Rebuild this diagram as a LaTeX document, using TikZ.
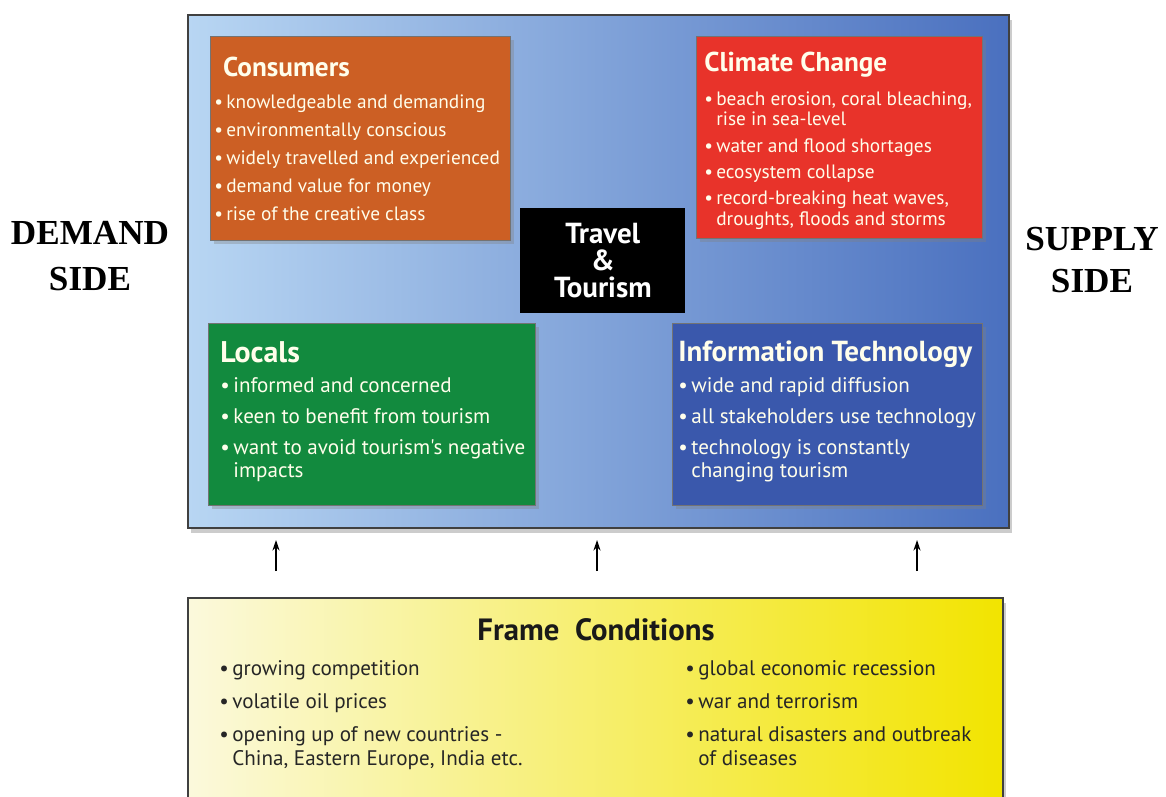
\documentclass[tikz,border=0pt]{standalone}
\usepackage{fontspec}
\setmainfont{Liberation Serif}
\newfontfamily\boxfont{PT Sans}
\usetikzlibrary{shadows,arrows.meta,positioning}
\newcommand{\bul}{\textbullet\,}
\newcommand{\hang}{\phantom{\textbullet\,}}
\newcommand{\cathead}{\boxfont\bfseries\fontsize{15.5}{18}\selectfont}

\begin{document}
\begin{tikzpicture}[x=0.02cm,y=0.02cm,
    catbox/.style={draw=black!55,line width=0.6pt,anchor=north west,
      drop shadow={shadow xshift=2pt,shadow yshift=-2pt,opacity=0.35}},
    cattext/.style={anchor=north west,align=left,text=white!92!yellow,inner sep=0pt,
      font=\boxfont\fontsize{11}{16}\selectfont},
    frametext/.style={anchor=north west,align=left,inner sep=0pt,text=black!85,
      font=\boxfont\fontsize{12}{13.6}\selectfont},
    sidelabel/.style={align=center,font=\bfseries\fontsize{20}{26}\selectfont},
    uparrow/.style={-{Stealth[length=6pt,width=4pt]},line width=0.8pt}]
  \definecolor{skylight}{HTML}{B8D6F3}
  \definecolor{skydark}{HTML}{4A70BF}
  \definecolor{consorange}{HTML}{CC5F24}
  \definecolor{climred}{HTML}{E8332A}
  \definecolor{localgreen}{HTML}{128A3E}
  \definecolor{itblue}{HTML}{3A58AC}
  \definecolor{framecream}{HTML}{FBF9DC}
  \definecolor{frameyellow}{HTML}{F2E400}

  \clip (0,0) rectangle (1166,-797);

  % main box
  \node[draw=black!75,line width=1pt,anchor=north west,minimum width=16.42cm,minimum height=10.26cm,
    left color=skylight,right color=skydark,
    drop shadow={shadow xshift=2pt,shadow yshift=-3pt,opacity=0.4}] (main) at (187,-14) {};

  % category boxes
  \node[catbox,fill=consorange,minimum width=6cm,minimum height=4.08cm] (cons) at (210,-36) {};
  \node[catbox,fill=climred,minimum width=5.72cm,minimum height=4.04cm] (clim) at (696,-36) {};
  \node[catbox,fill=localgreen,minimum width=6.54cm,minimum height=3.64cm] (locals) at (208,-323) {};
  \node[catbox,fill=itblue,minimum width=6.2cm,minimum height=3.64cm] (it) at (672,-323) {};
  \node[fill=black,anchor=north west,minimum width=3.3cm,minimum height=2.1cm,align=center,
    text=white,font=\boxfont\bfseries\fontsize{16.5}{15.3}\selectfont] (travel) at (520,-208)
    {Travel\\\&\\Tourism};

  % texts
  \node[cattext] (cons-txt) at ([shift={(4,-21)}]cons.north west)
    {\hspace*{5pt}{\cathead Consumers}\\[2pt]
     \bul knowledgeable and demanding\\
     \bul environmentally conscious\\
     \bul widely travelled and experienced\\
     \bul demand value for money\\
     \bul rise of the creative class};
  \node[cattext,font=\boxfont\fontsize{11}{11.4}\selectfont] (clim-txt) at ([shift={(8,-16)}]clim.north west)
    {{\cathead Climate Change}\\[8pt]
     \bul beach erosion, coral bleaching,\\
     \hang rise in sea-level\\[3.6pt]
     \bul water and flood shortages\\[3.6pt]
     \bul ecosystem collapse\\[3.6pt]
     \bul record-breaking heat waves,\\
     \hang droughts, floods and storms};
  \node[cattext,font=\boxfont\fontsize{12}{13}\selectfont] (locals-txt) at ([shift={(12,-18)}]locals.north west)
    {{\cathead\fontsize{17}{20}\selectfont Locals}\\[4.4pt]
     \bul informed and concerned\\[4.6pt]
     \bul keen to benefit from tourism\\[4.6pt]
     \bul want to avoid tourism's negative\\
     \hang impacts};
  \node[cattext,font=\boxfont\fontsize{12}{13}\selectfont] (it-txt) at ([shift={(6,-18)}]it.north west)
    {{\cathead\fontsize{16.5}{20}\selectfont Information Technology}\\[4.4pt]
     \bul wide and rapid diffusion\\[4.6pt]
     \bul all stakeholders use technology\\[4.6pt]
     \bul technology is constantly\\
     \hang changing tourism};

  % side labels
  \node[sidelabel] (demand) at (90,-256) {DEMAND\\SIDE};
  \node[sidelabel,font=\bfseries\fontsize{20}{23.5}\selectfont] (supply) at (1092,-260) {SUPPLY\\SIDE};

  % frame conditions
  \node[draw=black!75,line width=1pt,anchor=north west,minimum width=16.3cm,minimum height=4.4cm,
    left color=framecream,right color=frameyellow,
    drop shadow={shadow xshift=2pt,shadow yshift=-3pt,opacity=0.4}] (frame) at (187,-597) {};
  \node[font=\boxfont\bfseries\fontsize{17.5}{20}\selectfont,text=black!90] (frame-head) at (596,-630)
    {Frame\ \ Conditions};
  \node[frametext] (frame-left) at (219,-660)
    {\bul growing competition\\[5.5pt]
     \bul volatile oil prices\\[5pt]
     \bul opening up of new countries -\\
     \hang China, Eastern Europe, India etc.};
  \node[frametext] (frame-right) at (685,-660)
    {\bul global economic recession\\[5.5pt]
     \bul war and terrorism\\[5pt]
     \bul natural disasters and outbreak\\
     \hang of diseases};

  % arrows from frame conditions
  \foreach \ax [count=\i] in {276,597,917} {
    \coordinate (foot\i) at (\ax,-571);
    \coordinate (tip\i) at (\ax,-540);
    \draw[uparrow] (foot\i) -- (tip\i);
  }
\end{tikzpicture}
\end{document}
